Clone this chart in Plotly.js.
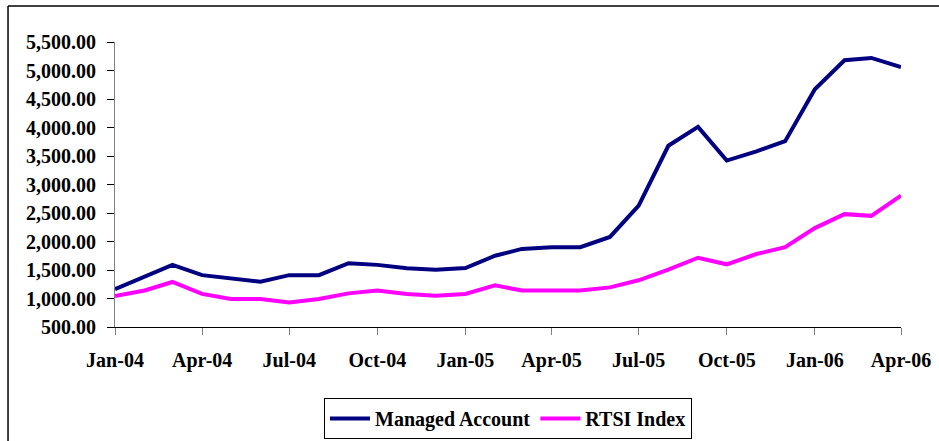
<!DOCTYPE html>
<html>
<head>
<meta charset="utf-8">
<script src="https://cdn.plot.ly/plotly-3.0.1.min.js"></script>
<style>
html,body{margin:0;padding:0;background:#fff;}
#chart{width:939px;height:441px;}
</style>
</head>
<body>
<div id="chart"></div>
<script>
const months = [
  '2004-01-01','2004-02-01','2004-03-01','2004-04-01','2004-05-01','2004-06-01',
  '2004-07-01','2004-08-01','2004-09-01','2004-10-01','2004-11-01','2004-12-01',
  '2005-01-01','2005-02-01','2005-03-01','2005-04-01','2005-05-01','2005-06-01',
  '2005-07-01','2005-08-01','2005-09-01','2005-10-01','2005-11-01','2005-12-01',
  '2006-01-01','2006-02-01','2006-03-01','2006-04-01'
];
const managedAccount = [
  1165, 1390, 1590, 1410, 1355, 1295,
  1410, 1410, 1620, 1590, 1530, 1505,
  1535, 1750, 1870, 1900, 1900, 2080,
  2630, 3680, 4010, 3420, 3580, 3760,
  4670, 5180, 5220, 5060
];
const rtsiIndex = [
  1045, 1140, 1290, 1080, 990, 990,
  930, 990, 1090, 1140, 1080, 1050,
  1080, 1230, 1140, 1140, 1140, 1195,
  1320, 1505, 1715, 1600, 1780, 1900,
  2235, 2480, 2450, 2805
];
const tickDates = ['2004-01-01','2004-04-01','2004-07-01','2004-10-01','2005-01-01',
  '2005-04-01','2005-07-01','2005-10-01','2006-01-01','2006-04-01'];
const tickLabels = ['Jan-04','Apr-04','Jul-04','Oct-04','Jan-05',
  'Apr-05','Jul-05','Oct-05','Jan-06','Apr-06'];
const yTicks = [500,1000,1500,2000,2500,3000,3500,4000,4500,5000,5500];

const font = {family:'Liberation Serif, Times New Roman, serif', size:20, color:'#000', weight:'bold'};

const traces = [
  {x: months, y: managedAccount, name: 'Managed Account', type:'scatter', mode:'lines',
   line:{color:'#000080', width:4}},
  {x: months, y: rtsiIndex, name: 'RTSI Index', type:'scatter', mode:'lines',
   line:{color:'#FF00FF', width:4}}
];

const layout = {
  width:939, height:441,
  margin:{l:115, r:38, t:42, b:114},
  paper_bgcolor:'#fff', plot_bgcolor:'#fff',
  font: font,
  showlegend:true,
  legend:{orientation:'h', x:0.5, xanchor:'center', yref:'container', y:0.0975, yanchor:'top',
    bordercolor:'#000', borderwidth:1, font:font, bgcolor:'#fff', itemwidth:40},
  xaxis:{type:'date', range:['2004-01-01','2006-04-01'], tickmode:'array',
    tickvals: tickDates, ticktext: tickLabels, ticks:'outside', ticklen:7,
    tickcolor:'#808080', showline:true, linecolor:'#000', linewidth:1,
    showgrid:false, zeroline:false, tickfont:font, ticklabelstandoff:8},
  yaxis:{range:[500,5500], tickmode:'array', tickvals:yTicks, tickformat:',.2f',
    ticks:'outside', ticklen:7, tickcolor:'#000', showline:true, linecolor:'#808080',
    linewidth:1, showgrid:false, zeroline:false, tickfont:font, ticklabelstandoff:7},
  shapes:[
    {type:'line', xref:'paper', yref:'paper', x0:-0.1361, x1:1.06, y0:1.1263, y1:1.1263,
     line:{color:'#000', width:1.5}},
    {type:'line', xref:'paper', yref:'paper', x0:-0.1361, x1:-0.1361, y0:1.1263, y1:-0.5,
     line:{color:'#000', width:1.5}}
  ]
};

Plotly.newPlot('chart', traces, layout, {displayModeBar:false, staticPlot:true});
</script>
</body>
</html>
